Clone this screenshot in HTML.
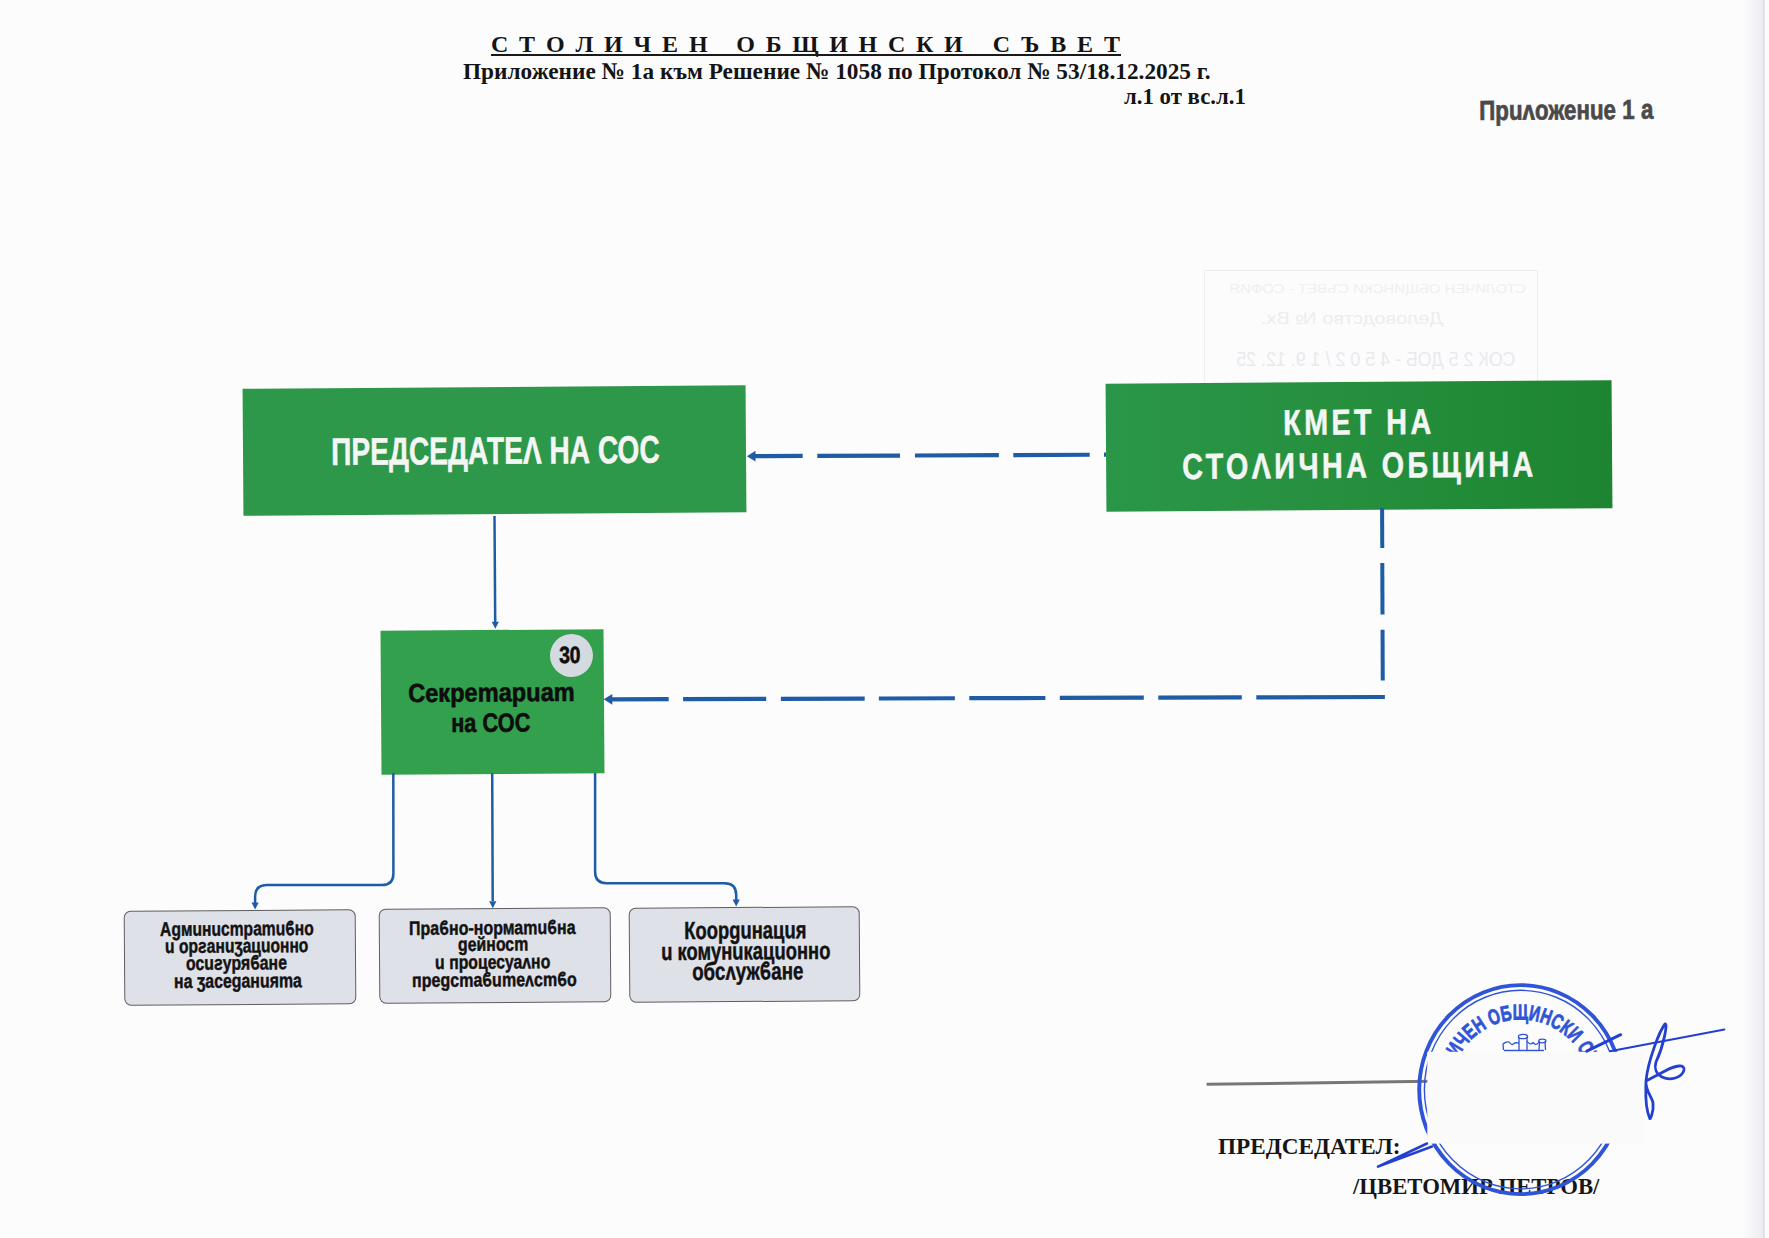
<!DOCTYPE html><html><head><meta charset="utf-8"><style>
html,body{margin:0;padding:0;}
body{width:1769px;height:1238px;position:relative;overflow:hidden;background:#fcfcfc;font-family:"Liberation Sans",sans-serif;}
.t{position:absolute;white-space:pre;font-weight:bold;transform-origin:0 0;}
.bx{position:absolute;box-sizing:border-box;}
svg{position:absolute;left:0;top:0;}
</style></head><body>
<div style="position:absolute;left:1742px;top:0;width:22px;height:1238px;background:linear-gradient(90deg,rgba(240,240,244,0) 0%,rgba(236,236,241,0.8) 85%,rgba(230,230,236,1) 100%);"></div>
<div style="position:absolute;left:1763px;top:0;width:1.5px;height:1238px;background:#e2e2e8"></div>
<div style="position:absolute;left:1204px;top:270px;width:334px;height:112px;border:1.2px solid #ececf1;border-bottom:none;box-sizing:border-box"></div>
<div class="t" style="left:1258px;top:348px;font-family:'Liberation Sans',sans-serif;font-weight:normal;font-size:21px;line-height:21px;color:#e9e9ef;transform:scale(-0.85,1);transform-origin:139px 0;width:278px">СОК 2 5 ДОБ - 4 5 0 2 / 1 9. 12. 25</div>
<div class="t" style="left:1247px;top:310px;font-family:'Liberation Sans',sans-serif;font-weight:normal;font-size:17px;line-height:17px;color:#ececf1;transform:scale(-1.18,1);transform-origin:90px 0;width:180px">Деловодство № Вх.</div>
<div class="t" style="left:1210px;top:282px;font-family:'Liberation Sans',sans-serif;font-weight:normal;font-size:13px;line-height:13px;color:#efeff3;transform:scale(-1.15,1);transform-origin:147px 0;width:294px">СТОЛИЧЕН ОБЩИНСКИ СЪВЕТ - СОФИЯ</div>
<div class="t" style="left:490.90px;top:31.60px;font-family:'Liberation Serif',serif;font-size:24px;line-height:24px;color:#141414;letter-spacing:2.416px">С Т О Л И Ч Е Н</div>
<div class="t" style="left:736.30px;top:31.60px;font-family:'Liberation Serif',serif;font-size:24px;line-height:24px;color:#141414;letter-spacing:2.346px">О Б Щ И Н С К И</div>
<div class="t" style="left:992.70px;top:31.60px;font-family:'Liberation Serif',serif;font-size:24px;line-height:24px;color:#141414;letter-spacing:2.436px">С Ъ В Е Т</div>
<div style="position:absolute;left:490.5px;top:54.1px;width:630px;height:2.2px;background:#1a1a1a"></div>
<div class="bx" style="left:243.00px;top:387.30px;width:503.40px;height:127.00px;transform:rotate(-0.4deg);background:#2d974a"></div>
<div class="bx" style="left:1105.85px;top:381.80px;width:506.00px;height:127.80px;transform:rotate(-0.4deg);background:linear-gradient(90deg,#2a9648 0%,#26903f 45%,#1d8531 100%)"></div>
<div class="bx" style="left:380.50px;top:629.55px;width:222.60px;height:143.50px;transform:rotate(-0.4deg);background:#33a04e"></div>
<div class="bx" style="left:549.70px;top:633.90px;width:43.00px;height:43.00px;transform:rotate(-0.4deg);background:#d4dae0;border-radius:50%"></div>
<div class="bx" style="left:123.50px;top:909.80px;width:231.90px;height:94.80px;transform:rotate(-0.4deg);background:#dfe1e8;border:1.6px solid #5f5f62;border-radius:7px"></div>
<div class="bx" style="left:379.10px;top:908.40px;width:231.90px;height:94.80px;transform:rotate(-0.4deg);background:#dfe1e8;border:1.6px solid #5f5f62;border-radius:7px"></div>
<div class="bx" style="left:629.40px;top:906.50px;width:231.00px;height:94.50px;transform:rotate(-0.4deg);background:#dfe1e8;border:1.6px solid #5f5f62;border-radius:7px"></div>
<div class="t" style="left:463.10px;top:58.60px;font-family:'Liberation Serif',sans-serif;font-size:24px;line-height:24px;color:#141414;transform:scaleX(0.9709);">Приложение № 1а към Решение № 1058 по Протокол № 53/18.12.2025 г.</div>
<div class="t" style="left:1123.80px;top:84.10px;font-family:'Liberation Serif',sans-serif;font-size:24px;line-height:24px;color:#141414;transform:scaleX(0.9504);">л.1 от вс.л.1</div>
<div class="t" style="left:1478.79px;top:97.24px;font-family:'Liberation Sans',sans-serif;font-size:27.6px;line-height:27.6px;color:#4b4949;transform:rotate(-0.4deg) scaleX(0.8108);-webkit-text-stroke:0.7px #4b4949;">Прuʌоженuе 1 а</div>
<div class="t" style="left:330.54px;top:432.54px;font-family:'Liberation Sans',sans-serif;font-size:38.5px;line-height:38.5px;color:#f4f6f4;transform:rotate(-0.4deg) scaleX(0.7306);-webkit-text-stroke:0.5px #f4f6f4;">ПРЕДСЕДАТЕΛ НА СОС</div>
<div class="t" style="left:1282.60px;top:405.33px;font-family:'Liberation Sans',sans-serif;font-size:36px;line-height:36px;color:#f4f6f4;transform:rotate(-0.4deg) scaleX(0.8000);-webkit-text-stroke:0.5px #f4f6f4;letter-spacing:4.194px;">КМЕТ НА</div>
<div class="t" style="left:1182.10px;top:448.54px;font-family:'Liberation Sans',sans-serif;font-size:36px;line-height:36px;color:#f4f6f4;transform:rotate(-0.4deg) scaleX(0.8000);-webkit-text-stroke:0.5px #f4f6f4;letter-spacing:4.228px;">СТОΛИЧНА ОБЩИНА</div>
<div class="t" style="left:407.59px;top:680.36px;font-family:'Liberation Sans',sans-serif;font-size:26px;line-height:26px;color:#0d0d0d;transform:rotate(-0.4deg) scaleX(0.9080);-webkit-text-stroke:0.6px #0d0d0d;">Секреmарuаm</div>
<div class="t" style="left:451.18px;top:709.54px;font-family:'Liberation Sans',sans-serif;font-size:26.5px;line-height:26.5px;color:#0d0d0d;transform:rotate(-0.4deg) scaleX(0.8236);-webkit-text-stroke:0.6px #0d0d0d;">на СОС</div>
<div class="t" style="left:558.80px;top:644.18px;font-family:'Liberation Sans',sans-serif;font-size:23.5px;line-height:23.5px;color:#0d0d0d;transform:rotate(-0.4deg) scaleX(0.8209);-webkit-text-stroke:0.6px #0d0d0d;">30</div>
<div class="t" style="left:159.70px;top:920.09px;font-family:'Liberation Sans',sans-serif;font-size:19.9px;line-height:19.9px;color:#121212;transform:rotate(-0.4deg) scaleX(0.7857);-webkit-text-stroke:0.45px #121212;">Аgмuнuсmраmuϐно</div>
<div class="t" style="left:165.01px;top:937.35px;font-family:'Liberation Sans',sans-serif;font-size:19.9px;line-height:19.9px;color:#121212;transform:rotate(-0.4deg) scaleX(0.7852);-webkit-text-stroke:0.45px #121212;">u орƨанuʒацuонно</div>
<div class="t" style="left:186.10px;top:954.00px;font-family:'Liberation Sans',sans-serif;font-size:19.9px;line-height:19.9px;color:#121212;transform:rotate(-0.4deg) scaleX(0.7958);-webkit-text-stroke:0.45px #121212;">осuƨуряϐане</div>
<div class="t" style="left:174.10px;top:971.90px;font-family:'Liberation Sans',sans-serif;font-size:19.9px;line-height:19.9px;color:#121212;transform:rotate(-0.4deg) scaleX(0.7985);-webkit-text-stroke:0.45px #121212;">на ʒасеgанuяmа</div>
<div class="t" style="left:408.88px;top:918.59px;font-family:'Liberation Sans',sans-serif;font-size:19.6px;line-height:19.6px;color:#121212;transform:rotate(-0.4deg) scaleX(0.8159);-webkit-text-stroke:0.45px #121212;">Праϐно-нормаmuϐна</div>
<div class="t" style="left:457.50px;top:934.85px;font-family:'Liberation Sans',sans-serif;font-size:19.6px;line-height:19.6px;color:#121212;transform:rotate(-0.4deg) scaleX(0.8083);-webkit-text-stroke:0.45px #121212;">gейносm</div>
<div class="t" style="left:434.59px;top:953.30px;font-family:'Liberation Sans',sans-serif;font-size:19.6px;line-height:19.6px;color:#121212;transform:rotate(-0.4deg) scaleX(0.8054);-webkit-text-stroke:0.45px #121212;">u процесуаʌно</div>
<div class="t" style="left:411.58px;top:971.18px;font-family:'Liberation Sans',sans-serif;font-size:19.6px;line-height:19.6px;color:#121212;transform:rotate(-0.4deg) scaleX(0.8177);-webkit-text-stroke:0.45px #121212;">преgсmаϐumеʌсmϐо</div>
<div class="t" style="left:684.25px;top:918.81px;font-family:'Liberation Sans',sans-serif;font-size:24.7px;line-height:24.7px;color:#121212;transform:rotate(-0.4deg) scaleX(0.7467);-webkit-text-stroke:0.45px #121212;">Коорguнацuя</div>
<div class="t" style="left:660.55px;top:940.48px;font-family:'Liberation Sans',sans-serif;font-size:24.7px;line-height:24.7px;color:#121212;transform:rotate(-0.4deg) scaleX(0.7468);-webkit-text-stroke:0.45px #121212;">u комунuкацuонно</div>
<div class="t" style="left:692.40px;top:960.07px;font-family:'Liberation Sans',sans-serif;font-size:24.7px;line-height:24.7px;color:#121212;transform:rotate(-0.4deg) scaleX(0.7604);-webkit-text-stroke:0.45px #121212;">обсʌужϐане</div>
<div class="t" style="left:1217.60px;top:1134.74px;font-family:'Liberation Serif',sans-serif;font-size:23px;line-height:23px;color:#161616;transform:scaleX(1.0102);">ПРЕДСЕДАТЕЛ:</div>
<div class="t" style="left:1352.99px;top:1174.54px;font-family:'Liberation Serif',sans-serif;font-size:23px;line-height:23px;color:#161616;transform:scaleX(0.9880);">/ЦВЕТОМИР ПЕТРОВ/</div>
<svg width="1769" height="1238" viewBox="0 0 1769 1238">
<g fill="none" stroke="#1f5ca6" stroke-width="2.5">
<path d="M494.5,516 L495.2,622"/>
<path d="M492.2,773 L492.7,901"/>
<path d="M393.3,773 L393.4,873.5 Q393.4,885.1 381.8,885.1 L267,885.1 Q255.1,885.1 255.1,897 L255.1,903"/>
<path d="M595.1,773 L595.1,871.8 Q595.1,883.3 606.6,883.3 L724.5,883.3 Q736.2,883.3 736.2,895 L736.2,900"/>
</g>
<g fill="#1f5ca6">
<path d="M495.3,628.8 L491.7,621.8 L498.90000000000003,621.8 Z"/>
<path d="M492.8,908.2 L489.2,901.2 L496.40000000000003,901.2 Z"/>
<path d="M255.1,909.6 L251.5,902.6 L258.7,902.6 Z"/>
<path d="M736.2,906.6 L732.6,899.6 L739.8000000000001,899.6 Z"/>
<path d="M746.9,456.2 L755.5,450.8 L755.5,461.6 Z"/>
<path d="M603.7,699.3 L612.3,693.9 L612.3,704.7 Z"/>
</g>
<line x1="754" y1="456.17" x2="802.7" y2="455.97" stroke="#1f5ca6" stroke-width="4.2"/>
<line x1="817.3" y1="455.90" x2="900" y2="455.56" stroke="#1f5ca6" stroke-width="4.2"/>
<line x1="915" y1="455.49" x2="998.9" y2="455.14" stroke="#1f5ca6" stroke-width="4.2"/>
<line x1="1013.3" y1="455.08" x2="1089.7" y2="454.76" stroke="#1f5ca6" stroke-width="4.2"/>
<line x1="1104" y1="454.70" x2="1106" y2="454.69" stroke="#1f5ca6" stroke-width="4.2"/>
<line x1="611" y1="699.28" x2="668.7" y2="699.11" stroke="#1f5ca6" stroke-width="4.2"/>
<line x1="683.1" y1="699.07" x2="766.2" y2="698.82" stroke="#1f5ca6" stroke-width="4.2"/>
<line x1="780.9" y1="698.78" x2="864.7" y2="698.53" stroke="#1f5ca6" stroke-width="4.2"/>
<line x1="878.9" y1="698.49" x2="954.9" y2="698.26" stroke="#1f5ca6" stroke-width="4.2"/>
<line x1="969.3" y1="698.22" x2="1045.4" y2="698.00" stroke="#1f5ca6" stroke-width="4.2"/>
<line x1="1059.8" y1="697.96" x2="1143.8" y2="697.71" stroke="#1f5ca6" stroke-width="4.2"/>
<line x1="1158.3" y1="697.66" x2="1241.8" y2="697.42" stroke="#1f5ca6" stroke-width="4.2"/>
<line x1="1256.3" y1="697.38" x2="1384.9" y2="697.00" stroke="#1f5ca6" stroke-width="4.2"/>
<line x1="1382.10" y1="508" x2="1382.25" y2="548" stroke="#1f5ca6" stroke-width="4"/>
<line x1="1382.30" y1="563.1" x2="1382.49" y2="614.6" stroke="#1f5ca6" stroke-width="4"/>
<line x1="1382.55" y1="629.7" x2="1382.74" y2="680.4" stroke="#1f5ca6" stroke-width="4"/>
<line x1="1206.6" y1="1084.3" x2="1430" y2="1081.3" stroke="#767676" stroke-width="3"/>
<g fill="none" stroke="#2f55d6">
<ellipse cx="1520.7" cy="1089.6" rx="101.5" ry="104.5" stroke-width="3.9"/>
<ellipse cx="1520.7" cy="1089.6" rx="96.3" ry="99.3" stroke-width="1.4"/>
</g>
<defs><path id="arc" d="M1520.6,1159.6 A70,70 0 1,1 1520.6,1019.5999999999999 A70,70 0 1,1 1520.6,1159.6"/></defs>
<text font-family="Liberation Sans" font-weight="bold" font-size="21.5" fill="#2f55d6" stroke="#2f55d6" stroke-width="0.8" text-anchor="middle"><textPath href="#arc" startOffset="50%" textLength="236" lengthAdjust="spacingAndGlyphs">СТОЛИЧЕН ОБЩИНСКИ СЪВЕТ</textPath></text>
<g fill="none" stroke="#2f55d6" stroke-width="1.3" stroke-linejoin="round">
<path d="M1519,1050 L1519,1037 M1527,1050 L1527,1037"/>
<ellipse cx="1523" cy="1036.5" rx="4.6" ry="2.2"/>
<path d="M1539,1050 L1539.5,1041.5 M1545.5,1050 L1545,1041.5"/>
<ellipse cx="1542.3" cy="1041" rx="3.6" ry="1.8"/>
<path d="M1503.5,1050 L1503,1044 C1505,1042 1508,1041.5 1509,1042 C1511,1045 1513,1045 1514,1043.5 C1515.5,1042 1517,1043 1519,1043"/>
<path d="M1527,1041 C1529,1044 1531,1045 1533,1042.5 C1535,1045 1537,1045 1539,1042"/>
<path d="M1504,1050.5 L1544,1050.5" stroke-width="1.6"/>
</g>
<rect x="1427.3" y="1051.8" width="217" height="91.8" fill="#fafafb"/>
<g fill="none" stroke="#2440d0" stroke-width="2.4" stroke-linecap="round" stroke-linejoin="round">
<path d="M1427,1143.5 L1378,1166.6 L1432,1146.5" stroke-width="2.6"/>
<path d="M1610,1051.2 L1724.4,1029.4" stroke-width="2"/>
<path d="M1586.8,1051.2 L1620.7,1034.7" stroke-width="3"/>
<path d="M1649.8,1118.5 C1644,1105 1646,1090 1646,1081 C1648,1060 1660,1030 1665,1024 C1668,1022 1664,1045 1656,1062 C1654,1068 1656,1074 1662,1077 C1670,1081 1682,1078 1684,1070 C1685,1064 1676,1065 1665,1071 L1646,1081 C1645,1090 1652,1097 1653,1103 C1654,1112 1650,1120 1649.8,1118.5" stroke-width="2.8"/>
</g>
</svg>
</body></html>
